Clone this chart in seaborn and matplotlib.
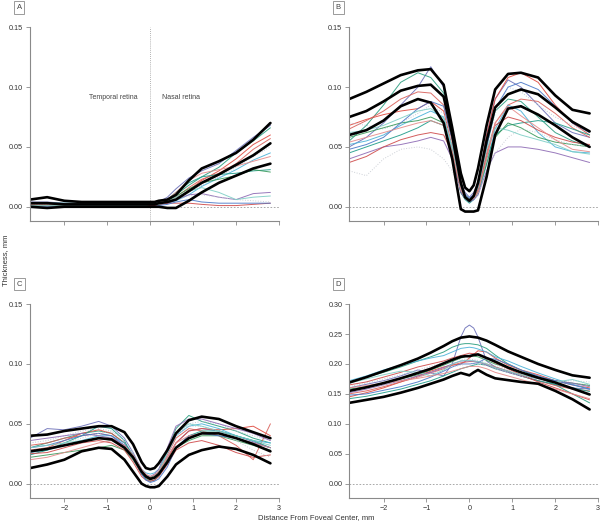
import numpy as np
import pandas as pd
import seaborn as sns
import matplotlib
matplotlib.use("Agg")
import matplotlib.pyplot as plt

# distance from foveal center, mm (sample positions shared by all panels)
x_mm = [-2.8, -2.4, -2.0, -1.6, -1.2, -0.9, -0.6, -0.4, -0.2, -0.1, 0.0,
        0.1, 0.2, 0.4, 0.6, 0.9, 1.2, 1.6, 2.0, 2.4, 2.8]

# %% panel A
a_upper = [0.006, 0.008, 0.005, 0.004, 0.004, 0.004, 0.004, 0.004, 0.004, 0.004, 0.004, 0.004, 0.005, 0.006, 0.010, 0.022, 0.032, 0.038, 0.045, 0.056, 0.070]
a_mean = [0.003, 0.003, 0.002, 0.002, 0.002, 0.002, 0.002, 0.002, 0.002, 0.002, 0.002, 0.002, 0.003, 0.004, 0.006, 0.013, 0.020, 0.027, 0.035, 0.043, 0.053]
a_lower = [0.000, -0.001, 0.000, 0.000, 0.000, 0.000, 0.000, 0.000, 0.000, 0.000, 0.000, 0.000, 0.000, -0.001, -0.001, 0.005, 0.012, 0.020, 0.026, 0.032, 0.036]
a_eyes = [
    [0.004, 0.004, 0.003, 0.003, 0.003, 0.003, 0.003, 0.003, 0.003, 0.003, 0.003, 0.003, 0.004, 0.008, 0.015, 0.024, 0.030, 0.036, 0.047, 0.058, 0.068],
    [0.002, 0.002, 0.002, 0.002, 0.002, 0.002, 0.002, 0.002, 0.002, 0.002, 0.003, 0.003, 0.003, 0.005, 0.010, 0.018, 0.025, 0.033, 0.045, 0.055, 0.066],
    [0.003, 0.003, 0.002, 0.002, 0.002, 0.002, 0.002, 0.002, 0.002, 0.002, 0.002, 0.002, 0.002, 0.003, 0.006, 0.014, 0.022, 0.030, 0.040, 0.052, 0.060],
    [0.001, 0.001, 0.001, 0.001, 0.001, 0.001, 0.001, 0.001, 0.001, 0.001, 0.001, 0.001, 0.002, 0.004, 0.008, 0.016, 0.023, 0.028, 0.036, 0.048, 0.057],
    [0.002, 0.002, 0.002, 0.002, 0.002, 0.002, 0.002, 0.002, 0.002, 0.002, 0.002, 0.002, 0.002, 0.004, 0.007, 0.012, 0.018, 0.025, 0.033, 0.042, 0.050],
    [0.001, 0.001, 0.001, 0.001, 0.001, 0.001, 0.001, 0.001, 0.001, 0.001, 0.001, 0.001, 0.002, 0.003, 0.005, 0.010, 0.017, 0.024, 0.031, 0.039, 0.045],
    [0.003, 0.003, 0.003, 0.003, 0.003, 0.003, 0.003, 0.003, 0.003, 0.003, 0.003, 0.003, 0.003, 0.006, 0.012, 0.020, 0.025, 0.027, 0.028, 0.030, 0.031],
    [0.002, 0.002, 0.001, 0.001, 0.001, 0.001, 0.001, 0.001, 0.001, 0.001, 0.002, 0.002, 0.003, 0.005, 0.009, 0.015, 0.020, 0.023, 0.026, 0.031, 0.029],
    [0.001, 0.001, 0.001, 0.001, 0.001, 0.001, 0.001, 0.001, 0.001, 0.001, 0.001, 0.001, 0.002, 0.003, 0.006, 0.010, 0.011, 0.008, 0.006, 0.011, 0.012],
    [0.001, 0.001, 0.001, 0.001, 0.001, 0.001, 0.001, 0.001, 0.001, 0.001, 0.001, 0.001, 0.002, 0.003, 0.003, 0.003, 0.002, 0.001, 0.001, 0.002, 0.003],
    [0.000, 0.000, 0.000, 0.000, 0.000, 0.000, 0.000, 0.000, 0.000, 0.000, 0.000, 0.000, 0.001, 0.002, 0.004, 0.006, 0.004, 0.003, 0.003, 0.003, 0.003],
    [0.002, 0.002, 0.002, 0.002, 0.002, 0.002, 0.002, 0.002, 0.002, 0.002, 0.002, 0.002, 0.003, 0.004, 0.006, 0.009, 0.010, 0.008, 0.006, 0.005, 0.004],
    [0.001, 0.001, 0.001, 0.001, 0.001, 0.001, 0.001, 0.001, 0.001, 0.001, 0.002, 0.002, 0.002, 0.004, 0.008, 0.013, 0.016, 0.012, 0.006, 0.008, 0.009],
    [0.002, 0.002, 0.002, 0.002, 0.002, 0.002, 0.002, 0.002, 0.002, 0.002, 0.002, 0.002, 0.003, 0.006, 0.012, 0.022, 0.028, 0.031, 0.034, 0.038, 0.042],
]

# %% panel B
b_upper = [0.090, 0.096, 0.103, 0.110, 0.114, 0.115, 0.102, 0.066, 0.028, 0.016, 0.013, 0.018, 0.032, 0.068, 0.098, 0.111, 0.112, 0.108, 0.093, 0.081, 0.078]
b_mean = [0.075, 0.080, 0.088, 0.097, 0.101, 0.102, 0.092, 0.060, 0.020, 0.008, 0.005, 0.009, 0.020, 0.055, 0.083, 0.094, 0.098, 0.094, 0.083, 0.071, 0.063]
b_lower = [0.060, 0.064, 0.072, 0.084, 0.090, 0.087, 0.070, 0.040, -0.002, -0.004, -0.004, -0.004, -0.003, 0.025, 0.060, 0.082, 0.084, 0.077, 0.068, 0.058, 0.050]
b_eyes = [
    [0.050, 0.058, 0.070, 0.085, 0.100, 0.117, 0.100, 0.060, 0.020, 0.012, 0.008, 0.012, 0.020, 0.060, 0.090, 0.106, 0.100, 0.085, 0.070, 0.062, 0.058],
    [0.055, 0.068, 0.085, 0.104, 0.112, 0.108, 0.095, 0.060, 0.018, 0.010, 0.006, 0.009, 0.015, 0.050, 0.080, 0.090, 0.088, 0.075, 0.062, 0.055, 0.050],
    [0.068, 0.073, 0.077, 0.080, 0.082, 0.088, 0.080, 0.050, 0.015, 0.009, 0.006, 0.010, 0.018, 0.060, 0.090, 0.108, 0.112, 0.104, 0.085, 0.070, 0.060],
    [0.065, 0.072, 0.080, 0.090, 0.096, 0.095, 0.085, 0.055, 0.015, 0.008, 0.005, 0.008, 0.015, 0.045, 0.070, 0.085, 0.090, 0.088, 0.078, 0.066, 0.058],
    [0.070, 0.068, 0.065, 0.070, 0.078, 0.085, 0.078, 0.050, 0.014, 0.007, 0.004, 0.007, 0.014, 0.048, 0.078, 0.100, 0.096, 0.085, 0.075, 0.068, 0.062],
    [0.052, 0.055, 0.060, 0.068, 0.075, 0.080, 0.075, 0.048, 0.012, 0.007, 0.004, 0.006, 0.010, 0.035, 0.065, 0.085, 0.080, 0.062, 0.050, 0.046, 0.045],
    [0.045, 0.050, 0.055, 0.060, 0.066, 0.072, 0.068, 0.045, 0.012, 0.006, 0.003, 0.006, 0.012, 0.040, 0.060, 0.068, 0.070, 0.072, 0.070, 0.065, 0.060],
    [0.058, 0.062, 0.066, 0.070, 0.072, 0.075, 0.070, 0.045, 0.012, 0.007, 0.004, 0.007, 0.012, 0.036, 0.058, 0.070, 0.066, 0.058, 0.054, 0.052, 0.050],
    [0.040, 0.045, 0.050, 0.052, 0.055, 0.058, 0.055, 0.040, 0.012, 0.007, 0.004, 0.006, 0.010, 0.030, 0.045, 0.050, 0.050, 0.048, 0.045, 0.041, 0.037],
    [0.037, 0.042, 0.050, 0.056, 0.060, 0.062, 0.060, 0.045, 0.015, 0.008, 0.005, 0.008, 0.014, 0.042, 0.068, 0.075, 0.072, 0.064, 0.058, 0.054, 0.052],
    [0.048, 0.052, 0.058, 0.070, 0.082, 0.088, 0.084, 0.056, 0.016, 0.010, 0.007, 0.010, 0.016, 0.050, 0.082, 0.100, 0.104, 0.098, 0.084, 0.070, 0.062],
    [0.030, 0.026, 0.040, 0.048, 0.050, 0.048, 0.040, 0.030, 0.015, 0.008, 0.005, 0.007, 0.010, 0.028, 0.045, 0.058, 0.065, 0.062, 0.056, 0.052, 0.050],
    [0.062, 0.064, 0.068, 0.074, 0.080, 0.082, 0.074, 0.050, 0.015, 0.009, 0.006, 0.009, 0.016, 0.048, 0.066, 0.064, 0.060, 0.056, 0.052, 0.046, 0.044],
    [0.054, 0.058, 0.062, 0.066, 0.070, 0.072, 0.068, 0.046, 0.014, 0.008, 0.005, 0.007, 0.012, 0.040, 0.070, 0.084, 0.076, 0.066, 0.056, 0.048, 0.046],
]

# %% panel C
c_upper = [0.040, 0.041, 0.044, 0.046, 0.048, 0.048, 0.043, 0.033, 0.018, 0.013, 0.012, 0.013, 0.017, 0.028, 0.042, 0.053, 0.056, 0.054, 0.048, 0.043, 0.038]
c_mean = [0.027, 0.029, 0.032, 0.035, 0.038, 0.037, 0.030, 0.022, 0.010, 0.006, 0.004, 0.005, 0.008, 0.018, 0.030, 0.038, 0.042, 0.042, 0.038, 0.033, 0.027]
c_lower = [0.013, 0.016, 0.020, 0.027, 0.030, 0.029, 0.020, 0.010, 0.000, -0.002, -0.003, -0.003, -0.002, 0.006, 0.016, 0.024, 0.028, 0.031, 0.029, 0.024, 0.017]
c_eyes = [
    [0.038, 0.046, 0.045, 0.048, 0.052, 0.048, 0.038, 0.026, 0.012, 0.007, 0.005, 0.007, 0.010, 0.022, 0.034, 0.044, 0.046, 0.044, 0.040, 0.035, 0.030],
    [0.030, 0.034, 0.038, 0.042, 0.044, 0.042, 0.034, 0.024, 0.010, 0.006, 0.004, 0.006, 0.010, 0.028, 0.046, 0.057, 0.052, 0.048, 0.044, 0.038, 0.034],
    [0.028, 0.030, 0.036, 0.042, 0.045, 0.042, 0.034, 0.022, 0.008, 0.005, 0.003, 0.005, 0.008, 0.020, 0.034, 0.044, 0.046, 0.045, 0.046, 0.048, 0.040],
    [0.032, 0.034, 0.038, 0.040, 0.042, 0.040, 0.030, 0.020, 0.008, 0.005, 0.004, 0.006, 0.010, 0.024, 0.038, 0.046, 0.044, 0.040, 0.032, 0.020, 0.050],
    [0.034, 0.036, 0.040, 0.044, 0.046, 0.044, 0.036, 0.024, 0.010, 0.006, 0.004, 0.006, 0.009, 0.024, 0.040, 0.050, 0.052, 0.050, 0.044, 0.040, 0.036],
    [0.026, 0.028, 0.032, 0.036, 0.040, 0.040, 0.034, 0.024, 0.012, 0.009, 0.008, 0.009, 0.012, 0.026, 0.040, 0.048, 0.050, 0.046, 0.040, 0.036, 0.034],
    [0.024, 0.028, 0.034, 0.040, 0.048, 0.046, 0.036, 0.022, 0.008, 0.004, 0.002, 0.003, 0.006, 0.018, 0.030, 0.040, 0.044, 0.044, 0.040, 0.036, 0.030],
    [0.022, 0.024, 0.026, 0.028, 0.030, 0.032, 0.028, 0.020, 0.010, 0.007, 0.005, 0.007, 0.010, 0.020, 0.030, 0.036, 0.040, 0.040, 0.036, 0.032, 0.028],
    [0.036, 0.038, 0.040, 0.042, 0.040, 0.038, 0.032, 0.022, 0.010, 0.007, 0.006, 0.008, 0.012, 0.030, 0.048, 0.054, 0.054, 0.050, 0.046, 0.042, 0.036],
    [0.025, 0.026, 0.030, 0.034, 0.036, 0.034, 0.028, 0.018, 0.006, 0.003, 0.002, 0.003, 0.006, 0.016, 0.028, 0.034, 0.036, 0.032, 0.026, 0.022, 0.024],
    [0.030, 0.032, 0.036, 0.040, 0.042, 0.040, 0.032, 0.022, 0.008, 0.003, 0.001, 0.002, 0.004, 0.014, 0.030, 0.040, 0.042, 0.040, 0.038, 0.034, 0.030],
    [0.028, 0.030, 0.034, 0.038, 0.042, 0.044, 0.036, 0.026, 0.012, 0.008, 0.006, 0.008, 0.011, 0.026, 0.040, 0.048, 0.048, 0.044, 0.036, 0.028, 0.022],
    [0.030, 0.032, 0.034, 0.036, 0.038, 0.036, 0.030, 0.020, 0.009, 0.006, 0.004, 0.006, 0.010, 0.026, 0.042, 0.050, 0.048, 0.044, 0.040, 0.036, 0.032],
    [0.020, 0.022, 0.026, 0.030, 0.034, 0.036, 0.032, 0.024, 0.012, 0.008, 0.006, 0.007, 0.010, 0.022, 0.034, 0.040, 0.042, 0.042, 0.038, 0.034, 0.030],
]

# %% panel D
d_upper = [0.169, 0.178, 0.188, 0.198, 0.209, 0.219, 0.230, 0.238, 0.244, 0.245, 0.246, 0.245, 0.244, 0.239, 0.232, 0.221, 0.212, 0.200, 0.190, 0.181, 0.177]
d_mean = [0.155, 0.161, 0.168, 0.176, 0.185, 0.192, 0.201, 0.207, 0.212, 0.213, 0.213, 0.215, 0.216, 0.210, 0.204, 0.194, 0.186, 0.177, 0.169, 0.159, 0.149]
d_lower = [0.135, 0.140, 0.145, 0.152, 0.160, 0.167, 0.174, 0.180, 0.185, 0.183, 0.181, 0.186, 0.190, 0.182, 0.176, 0.173, 0.170, 0.167, 0.155, 0.141, 0.124]
d_eyes = [
    [0.160, 0.166, 0.172, 0.180, 0.190, 0.185, 0.180, 0.200, 0.245, 0.260, 0.265, 0.260, 0.245, 0.205, 0.195, 0.188, 0.180, 0.172, 0.165, 0.160, 0.158],
    [0.170, 0.178, 0.186, 0.195, 0.205, 0.212, 0.220, 0.228, 0.233, 0.234, 0.234, 0.233, 0.232, 0.226, 0.215, 0.200, 0.190, 0.178, 0.165, 0.150, 0.135],
    [0.145, 0.152, 0.160, 0.170, 0.180, 0.188, 0.195, 0.198, 0.200, 0.204, 0.210, 0.216, 0.222, 0.220, 0.210, 0.198, 0.190, 0.182, 0.172, 0.165, 0.160],
    [0.150, 0.155, 0.162, 0.170, 0.178, 0.185, 0.192, 0.198, 0.202, 0.203, 0.204, 0.204, 0.203, 0.200, 0.195, 0.188, 0.180, 0.172, 0.164, 0.158, 0.155],
    [0.162, 0.168, 0.175, 0.182, 0.190, 0.196, 0.202, 0.206, 0.208, 0.208, 0.208, 0.207, 0.206, 0.202, 0.198, 0.190, 0.182, 0.174, 0.168, 0.168, 0.165],
    [0.172, 0.180, 0.190, 0.198, 0.205, 0.210, 0.214, 0.220, 0.226, 0.227, 0.228, 0.227, 0.225, 0.220, 0.212, 0.205, 0.196, 0.185, 0.175, 0.166, 0.158],
    [0.142, 0.146, 0.152, 0.158, 0.166, 0.172, 0.180, 0.186, 0.192, 0.194, 0.196, 0.198, 0.200, 0.198, 0.192, 0.186, 0.180, 0.172, 0.166, 0.160, 0.154],
    [0.158, 0.162, 0.168, 0.175, 0.182, 0.190, 0.198, 0.204, 0.210, 0.212, 0.214, 0.213, 0.212, 0.206, 0.200, 0.194, 0.186, 0.178, 0.172, 0.168, 0.164],
    [0.152, 0.158, 0.165, 0.172, 0.180, 0.186, 0.194, 0.200, 0.205, 0.205, 0.205, 0.205, 0.204, 0.198, 0.193, 0.186, 0.180, 0.176, 0.172, 0.168, 0.162],
    [0.165, 0.170, 0.178, 0.186, 0.195, 0.200, 0.205, 0.210, 0.214, 0.216, 0.218, 0.217, 0.216, 0.210, 0.202, 0.192, 0.182, 0.170, 0.160, 0.150, 0.140],
    [0.148, 0.150, 0.156, 0.162, 0.170, 0.178, 0.188, 0.195, 0.200, 0.200, 0.200, 0.201, 0.202, 0.210, 0.208, 0.200, 0.190, 0.180, 0.172, 0.165, 0.158],
    [0.155, 0.160, 0.165, 0.172, 0.178, 0.184, 0.190, 0.195, 0.198, 0.199, 0.200, 0.200, 0.200, 0.197, 0.192, 0.186, 0.180, 0.175, 0.170, 0.172, 0.170],
    [0.168, 0.175, 0.182, 0.188, 0.186, 0.180, 0.190, 0.200, 0.205, 0.206, 0.206, 0.205, 0.204, 0.200, 0.194, 0.188, 0.182, 0.176, 0.170, 0.174, 0.166],
    [0.160, 0.164, 0.168, 0.172, 0.176, 0.180, 0.184, 0.188, 0.192, 0.194, 0.196, 0.196, 0.196, 0.192, 0.186, 0.180, 0.174, 0.166, 0.158, 0.150, 0.142],
]

eye_colors = ['#6b6fb8', '#2a9d7f', '#e04a3f', '#d9605a', '#b9c3d3', '#4cb3d9', '#1f9c8a',
              '#3a9a5c', '#8e6bb5', '#cf4b4b', '#4a78c8', '#c7cbd2', '#7fcfc6', '#e58a8a']
eye_styles = ['-', '-', '-', '-', ':', '-', '-', '-', '-', '-', '-', ':', '-', '-']

# %%
sns.set_style("ticks")
plt.rcParams['font.family'] = ['Liberation Sans', 'DejaVu Sans']
plt.rcParams['axes.edgecolor'] = '#8a8a8a'
plt.rcParams['xtick.color'] = '#8a8a8a'
plt.rcParams['ytick.color'] = '#8a8a8a'
plt.rcParams['xtick.labelcolor'] = '#333333'
plt.rcParams['ytick.labelcolor'] = '#333333'

fig = plt.figure(figsize=(6.0, 5.24), dpi=100)
panels = [
    ("A", [0.050, 0.578, 0.415, 0.370], a_eyes, a_upper, a_mean, a_lower, 0.15),
    ("B", [0.582, 0.578, 0.415, 0.370], b_eyes, b_upper, b_mean, b_lower, 0.15),
    ("C", [0.050, 0.0496, 0.415, 0.370], c_eyes, c_upper, c_mean, c_lower, 0.15),
    ("D", [0.582, 0.0496, 0.415, 0.370], d_eyes, d_upper, d_mean, d_lower, 0.30),
]

for name, rect, eyes, upper, mean, lower, ytop in panels:
    ax = fig.add_axes(rect)
    for i, eye in enumerate(eyes):
        sns.lineplot(x=x_mm, y=eye, ax=ax, color=eye_colors[i], lw=0.7,
                     ls=eye_styles[i], alpha=0.9)
    for band in (upper, mean, lower):
        sns.lineplot(x=x_mm, y=band, ax=ax, color='black', lw=1.9)
    ax.axhline(0, color='#9a9a9a', lw=0.6, ls=(0, (2, 2)), zorder=0)
    ax.set_xlim(-2.8, 3.0)
    ax.set_ylim(-ytop * 0.08, ytop)
    ax.set_xticks([-2, -1, 0, 1, 2, 3])
    ax.set_xticklabels(['\u22122', '\u22121', '0', '1', '2', '3'])
    yt = np.arange(0, ytop + 0.001, 0.05)
    ax.set_yticks(yt)
    ax.set_yticklabels([f"{v:.2f}" for v in yt])
    ax.tick_params(labelsize=5.2, length=3, width=0.6, pad=2)
    for s in ('left', 'bottom'):
        ax.spines[s].set_linewidth(0.8)
    sns.despine(ax=ax)
    ax.set_xlabel('')
    ax.set_ylabel('')
    if name in ("A", "B"):
        ax.tick_params(labelbottom=False)
    if name == "A":
        ax.axvline(0, color='#9a9a9a', lw=0.6, ls=(0, (1, 1.5)), zorder=0)
        ax.text(-0.86, 0.091, 'Temporal retina', ha='center', va='center',
                fontsize=5.0, color='#444444')
        ax.text(0.72, 0.091, 'Nasal retina', ha='center', va='center',
                fontsize=5.0, color='#444444')

for name, fx, fy in [("A", 0.032, 0.9857), ("B", 0.564, 0.9857),
                     ("C", 0.032, 0.458), ("D", 0.564, 0.458)]:
    fig.text(fx, fy, name, ha='center', va='center', fontsize=5.5, color='#444444',
             bbox=dict(boxstyle='square,pad=0.35', fc='white', ec='#8a8a8a', lw=0.6))

fig.text(0.527, 0.013, 'Distance From Foveal Center, mm', ha='center', va='center',
         fontsize=5.5, color='#333333')
fig.text(0.009, 0.504, 'Thickness, mm', ha='center', va='center', rotation=90,
         fontsize=5.5, color='#333333')

fig.savefig("out.png", dpi=100)
